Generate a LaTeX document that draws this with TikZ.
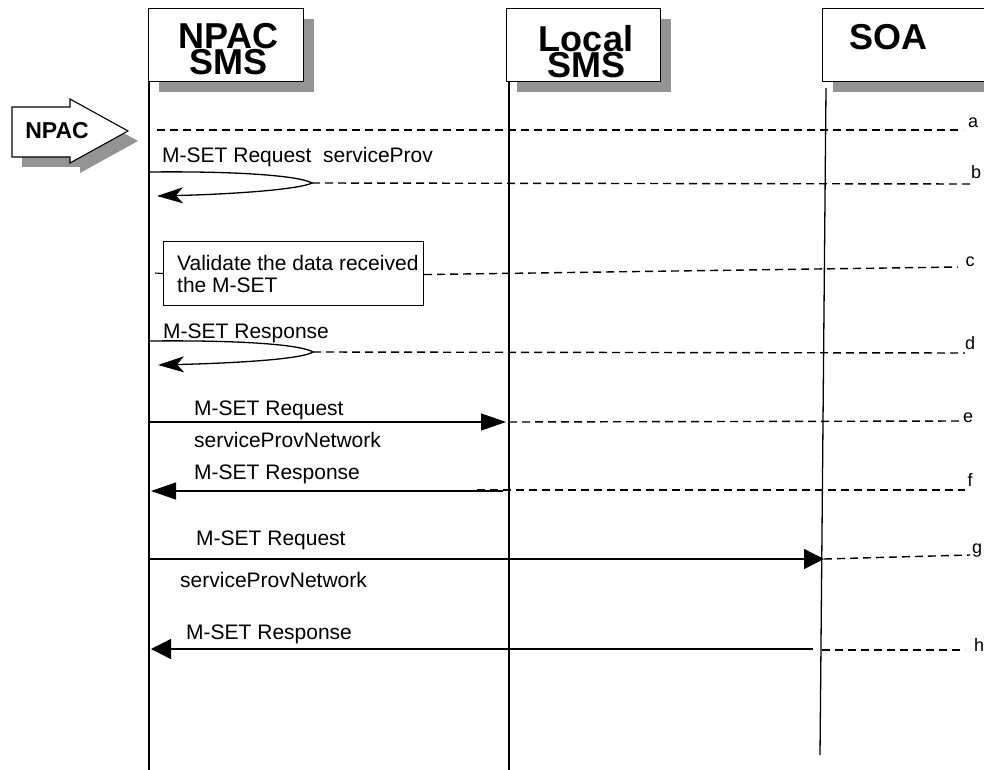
\documentclass[tikz,border=0pt]{standalone}
\usepackage{fontspec}
\setmainfont{Liberation Sans}
\usetikzlibrary{arrows.meta,shadows}
\definecolor{shadowgrey}{gray}{0.58}
\begin{document}
\begin{tikzpicture}[x=1pt,y=-1pt,
  actorbox/.style={draw, line width=1.1pt, fill=white, anchor=north west, inner sep=0pt,
    drop shadow={shadow xshift=10pt, shadow yshift=-10.5pt, fill=shadowgrey, opacity=1}},
  titletext/.style={font=\bfseries\fontsize{36}{26}\selectfont, inner sep=0pt, align=center},
  msgtext/.style={font=\fontsize{21}{23}\selectfont, inner sep=0pt, anchor=base west},
  rowlabel/.style={font=\fontsize{18}{20}\selectfont, inner sep=0pt},
  lifeline/.style={line width=1.3pt},
  dashline/.style={line width=1.4pt, dash pattern=on 8pt off 5pt},
  msg/.style={line width=1.3pt},
  tipA/.style={-{Triangle[length=25pt,width=17pt]}},
  tipB/.style={-{Triangle[length=20pt,width=20pt]}},
  looparrow/.style={line width=1.3pt, -{Stealth[length=26pt,width=16pt,inset=7pt]}}
]
\useasboundingbox (0,0) rectangle (984,770);

% actor boxes
\node[actorbox, minimum width=155pt, minimum height=73pt] (npacbox) at (148,8) {};
\node[actorbox, minimum width=154pt, minimum height=73pt] (localbox) at (506,8) {};
\node[actorbox, minimum width=162pt, minimum height=73pt] (soabox) at (822,8) {};
\node[titletext] (npact) at (228.5,49.6) {NPAC\\SMS};
\node[titletext] (localt) at (586,52) {Local\\SMS};
\node[titletext, anchor=base] (soat) at (888,50) {SOA};

% NPAC block arrow
\fill[shadowgrey] (22,117) -- (80,117) -- (80,109) -- (138,141) -- (80,173) -- (80,167) -- (22,167) -- cycle;
\draw[line width=1.1pt, fill=white] (12,107) -- (70,107) -- (70,99) -- (128,131) -- (70,163) -- (70,157) -- (12,157) -- cycle;
\node[font=\bfseries\fontsize{23}{25}\selectfont, inner sep=0pt] (npacin) at (57,131) {NPAC};

% lifelines
\coordinate (n1) at (149,81);  \coordinate (n2) at (149,770);
\coordinate (l1) at (509,81);  \coordinate (l2) at (509,770);
\coordinate (s1) at (826,88);  \coordinate (s2) at (820,755);
\draw[lifeline] (n1) -- (n2);
\draw[lifeline] (l1) -- (l2);
\draw[lifeline] (s1) -- (s2);

% row a
\coordinate (a1) at (157,130); \coordinate (a2) at (963,130);
\draw[dashline] (a1) -- (a2);
\node[rowlabel] (la) at (973,123) {a};

% row b
\node[msgtext] (tb) at (162,163) {M-SET Request\ \ serviceProv};
\coordinate (b0) at (149,172); \coordinate (btip) at (312,183); \coordinate (bend) at (157,196);
\draw[looparrow] (b0) .. controls (240,171) and (300,176) .. (btip) .. controls (300,189) and (240,194) .. (bend);
\coordinate (b2) at (972,184);
\draw[dashline] (btip) -- (b2);
\node[rowlabel] (lb) at (976,172) {b};

% row c
\node[draw, line width=1.1pt, fill=white, anchor=north west, minimum width=260pt, minimum height=64pt, inner sep=0pt] (vbox) at (163,241) {};
\node[msgtext] (tc1) at (177,270) {Validate the data received};
\node[msgtext] (tc2) at (177,292) {the M-SET};
\coordinate (c0) at (155,273);
\draw[line width=1.1pt] (c0) -- (vbox.west);
\coordinate (c2) at (958,267);
\draw[dashline] ([yshift=-1pt]vbox.east) -- (c2);
\node[rowlabel] (lc) at (970,262) {c};

% row d
\node[msgtext] (td) at (163,338) {M-SET Response};
\coordinate (d0) at (149,341); \coordinate (dtip) at (313,352); \coordinate (dend) at (158,365);
\draw[looparrow] (d0) .. controls (245,340) and (302,345) .. (dtip) .. controls (302,359) and (240,363) .. (dend);
\coordinate (d2) at (965,353);
\draw[dashline] (dtip) -- (d2);
\node[rowlabel] (ld) at (970,343) {d};

% row e
\node[msgtext] (te1) at (194,415) {M-SET Request};
\node[msgtext] (te2) at (194,447) {serviceProvNetwork};
\coordinate (e0) at (149,422); \coordinate (e1) at (506,422); \coordinate (e2) at (962,421);
\draw[msg, tipA] (e0) -- (e1);
\draw[dashline] (509,422) -- (e2);
\node[rowlabel] (le) at (968,418) {e};

% row f
\node[msgtext] (tf) at (194,479) {M-SET Response};
\coordinate (f0) at (503,491); \coordinate (f1) at (151,491); \coordinate (f2) at (965,490);
\draw[msg, tipA] (f0) -- (f1);
\draw[dashline] (477,490) -- (f2);
\node[rowlabel] (lf) at (970,480) {f};

% row g
\node[msgtext] (tg1) at (196,545) {M-SET Request};
\node[msgtext] (tg2) at (180,587) {serviceProvNetwork};
\coordinate (g0) at (149,559); \coordinate (g1) at (824,559); \coordinate (g2) at (970,555);
\draw[msg, tipB] (g0) -- (g1);
\draw[dashline] (g1) -- (g2);
\node[rowlabel] (lg) at (977,551) {g};

% row h
\node[msgtext] (th) at (186,639) {M-SET Response};
\coordinate (h0) at (813,649); \coordinate (h1) at (151,649); \coordinate (h2) at (965,650);
\draw[msg, tipB] (h0) -- (h1);
\draw[dashline] (822,650) -- (h2);
\node[rowlabel] (lh) at (979,645) {h};

\end{tikzpicture}
\end{document}
